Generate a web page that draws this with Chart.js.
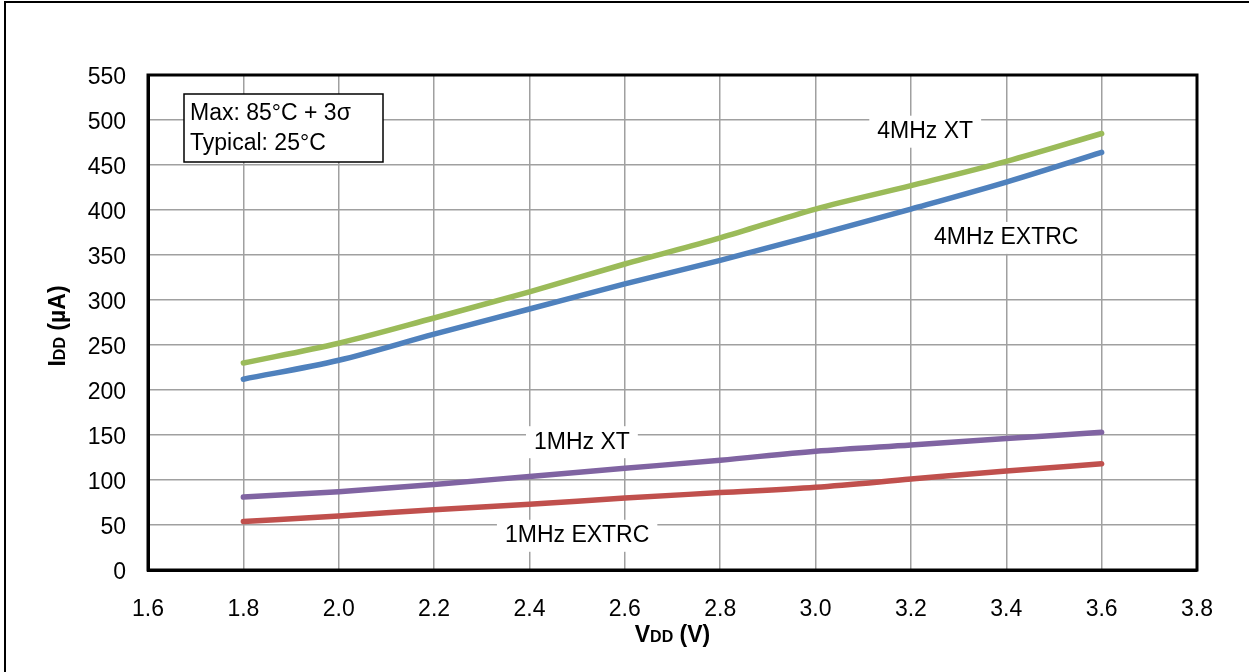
<!DOCTYPE html>
<html>
<head>
<meta charset="utf-8">
<script src="https://cdn.jsdelivr.net/npm/chart.js@4.4.1/dist/chart.umd.min.js"></script>
<style>
  html, body { margin: 0; padding: 0; background: #fff; }
</style>
</head>
<body>
<canvas id="myChart" width="1249" height="672"></canvas>
<script>
  // VDD (V) sample points
  const vdd = [1.8, 2.0, 2.2, 2.4, 2.6, 2.8, 3.0, 3.2, 3.4, 3.6];

  // IDD (uA) per oscillator mode
  const xt4Mhz    = [230, 252, 280, 309, 340, 369, 401, 427, 454, 485];
  const extrc4Mhz = [212, 233, 262, 290, 318, 344, 372, 401, 431, 464];
  const xt1Mhz    = [81, 87, 95, 104, 113, 122, 132, 139, 146, 153];
  const extrc1Mhz = [54, 60, 67, 73, 80, 86, 92, 101, 110, 118];

  const seriesNames = ['4MHz XT', '4MHz EXTRC', '1MHz XT', '1MHz EXTRC'];
  // where each series label sits, in data units (V, uA)
  const labelAt = [[3.23, 487], [3.40, 369], [2.51, 142], [2.50, 38]];

  const xTicks = [1.6, 3.8, 0.2];   // min, max, step
  const yTicks = [0, 550, 50];

  const FONT = '"Liberation Sans", Arial, sans-serif';

  function pts(ys) {
    return vdd.map((v, i) => ({ x: v, y: ys[i] }));
  }

  function line(label, ys, color) {
    return {
      label: label,
      data: pts(ys),
      borderColor: color,
      backgroundColor: color,
      borderWidth: 5.5,
      borderCapStyle: 'round',
      pointRadius: 0,
      cubicInterpolationMode: 'monotone',
      fill: false
    };
  }

  const decor = {
    id: 'decor',
    afterDraw(chart) {
      const ctx = chart.ctx;
      const a = chart.chartArea;
      const xs = chart.scales.x, ys = chart.scales.y;
      ctx.save();

      // outer frame (left + top)
      ctx.strokeStyle = '#000';
      ctx.lineWidth = 2;
      ctx.beginPath();
      ctx.moveTo(5, 672);
      ctx.lineTo(5, 2);
      ctx.lineTo(1249, 2);
      ctx.stroke();

      // plot frame
      ctx.lineWidth = 3;
      ctx.strokeRect(a.left, a.top, a.right - a.left, a.bottom - a.top);

      // note box
      ctx.fillStyle = '#fff';
      ctx.fillRect(184, 94, 199, 68);
      ctx.lineWidth = 1.5;
      ctx.strokeRect(184, 94, 199, 68);
      ctx.fillStyle = '#000';
      ctx.font = '23px ' + FONT;
      ctx.textAlign = 'left';
      ctx.textBaseline = 'middle';
      ctx.fillText('Max: 85°C + 3σ', 190, 114);
      ctx.fillText('Typical: 25°C', 190, 144);

      // series labels with white backing
      ctx.textAlign = 'center';
      seriesNames.forEach((name, i) => {
        const px = xs.getPixelForValue(labelAt[i][0]);
        const py = ys.getPixelForValue(labelAt[i][1]);
        const w = ctx.measureText(name).width;
        ctx.fillStyle = '#fff';
        ctx.fillRect(px - w / 2 - 8, py - 16, w + 16, 32);
        ctx.fillStyle = '#000';
        ctx.fillText(name, px, py);
      });

      // axis titles: big letter, small-cap subscript, rest
      function title(parts, x, y, rot) {
        ctx.save();
        ctx.translate(x, y);
        ctx.rotate(rot);
        let total = 0;
        parts.forEach(p => { ctx.font = 'bold ' + p[1] + 'px ' + FONT; total += ctx.measureText(p[0]).width; });
        let cx = -total / 2;
        ctx.textAlign = 'left';
        ctx.textBaseline = 'alphabetic';
        parts.forEach(p => {
          ctx.font = 'bold ' + p[1] + 'px ' + FONT;
          ctx.fillText(p[0], cx, 8);
          cx += ctx.measureText(p[0]).width;
        });
        ctx.restore();
      }
      ctx.fillStyle = '#000';
      title([['V', 23], ['DD', 16], [' (V)', 23]], (a.left + a.right) / 2, 634, 0);
      title([['I', 23], ['DD', 16], [' (µA)', 23]], 57, 326, -Math.PI / 2);

      ctx.restore();
    }
  };

  const ctx = document.getElementById('myChart').getContext('2d');
  new Chart(ctx, {
    type: 'line',
    data: {
      datasets: [
        line(seriesNames[0], xt4Mhz, '#9BBB59'),
        line(seriesNames[1], extrc4Mhz, '#4F81BD'),
        line(seriesNames[2], xt1Mhz, '#8064A2'),
        line(seriesNames[3], extrc1Mhz, '#C0504D')
      ]
    },
    options: {
      responsive: false,
      animation: false,
      devicePixelRatio: 1,
      layout: { padding: { left: 0, top: 75, right: 52, bottom: 0 } },
      plugins: {
        legend: { display: false },
        tooltip: { enabled: false }
      },
      scales: {
        x: {
          type: 'linear',
          min: xTicks[0],
          max: xTicks[1],
          afterFit(scale) { scale.height = 102; },
          afterBuildTicks(scale) {
            const t = [];
            for (let v = xTicks[0]; v <= xTicks[1] + 1e-9; v += xTicks[2]) t.push({ value: Math.round(v * 10) / 10 });
            scale.ticks = t;
          },
          ticks: {
            color: '#000',
            font: { family: FONT, size: 23 },
            padding: 26,
            maxRotation: 0,
            autoSkip: false,
            callback: v => v.toFixed(1)
          },
          grid: { color: '#a0a0a0', lineWidth: 1.5, drawTicks: false },
          border: { color: '#000', width: 3 }
        },
        y: {
          min: yTicks[0],
          max: yTicks[1],
          afterFit(scale) { scale.width = 148; },
          ticks: {
            stepSize: yTicks[2],
            color: '#000',
            font: { family: FONT, size: 23 },
            padding: 22,
            labelOffset: 3
          },
          grid: { color: '#a0a0a0', lineWidth: 1.5, drawTicks: false },
          border: { color: '#000', width: 3 }
        }
      }
    },
    plugins: [decor]
  });
</script>
</body>
</html>
